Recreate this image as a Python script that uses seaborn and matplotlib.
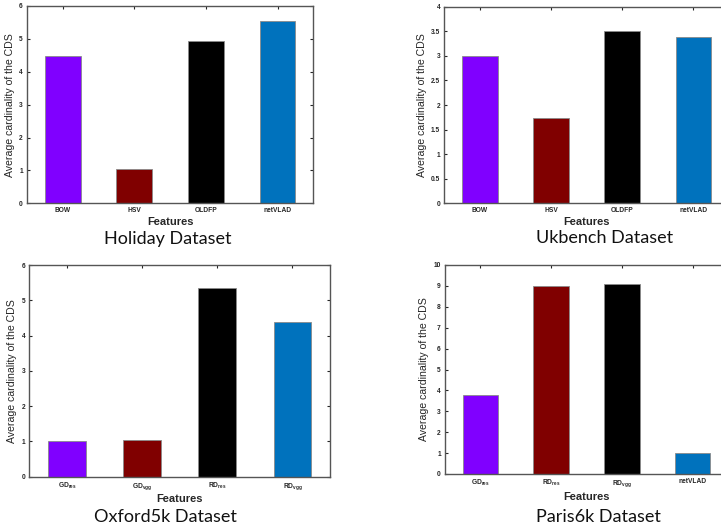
import numpy as np
import pandas as pd
import matplotlib
matplotlib.use('Agg')
import matplotlib.pyplot as plt
import seaborn as sns

# values
holiday_feats = ['BOW', 'HSV', 'OLDFP', 'netVLAD']
holiday_vals = [4.47, 1.03, 4.95, 5.55]

ukbench_feats = ['BOW', 'HSV', 'OLDFP', 'netVLAD']
ukbench_vals = [3.0, 1.74, 3.5, 3.38]

oxford_feats = ['GD$_{res}$', 'GD$_{vgg}$', 'RD$_{res}$', 'RD$_{vgg}$']
oxford_vals = [1.0, 1.03, 5.34, 4.38]

paris_feats = ['GD$_{res}$', 'RD$_{res}$', 'RD$_{vgg}$', 'netVLAD']
paris_vals = [3.76, 9.0, 9.09, 1.0]

bar_colors = ['#8000FF', '#800000', '#000000', '#0072BD']

sns.set_style('ticks')
plt.rcParams['font.family'] = ['Liberation Sans', 'DejaVu Sans']
plt.rcParams['mathtext.default'] = 'regular'

W, H = 721, 527
fig = plt.figure(figsize=(W / 100, H / 100), dpi=100)


def box(l, t, r, b):
    return [l / W, 1 - b / H, (r - l) / W, (b - t) / H]


panels = [
    (holiday_feats, holiday_vals, box(27, 6, 313.3, 203.3), np.arange(0, 7, 1), (0, 6),
     'Holiday Dataset', 168, 239),
    (ukbench_feats, ukbench_vals, box(444.3, 6.7, 729, 203.3), np.arange(0, 4.01, 0.5), (0, 4),
     'Ukbench Dataset', 605, 238),
    (oxford_feats, oxford_vals, box(29.3, 265, 330, 476.7), np.arange(0, 7, 1), (0, 6),
     'Oxford5k Dataset', 165, 517),
    (paris_feats, paris_vals, box(445, 265, 728, 474), np.arange(0, 11, 1), (0, 10),
     'Paris6k Dataset', 598, 517),
]

for feats, vals, pos, yt, ylim, title, tx, ty in panels:
    ax = fig.add_axes(pos)
    df = pd.DataFrame({'feat': feats, 'val': vals})
    sns.barplot(data=df, x='feat', y='val', hue='feat', palette=bar_colors,
                width=0.5, legend=False, ax=ax, edgecolor='#8a8a8a', linewidth=0.6,
                saturation=1)
    ax.set_xlim(-0.5, 3.5)
    ax.set_ylim(*ylim)
    ax.set_yticks(yt)
    ax.set_yticklabels(['%g' % v for v in yt])
    ax.tick_params(direction='in', length=2.5, width=0.8, top=True, right=True,
                   labelsize=4.8, colors='#262626', pad=3)
    for lab in ax.get_xticklabels() + ax.get_yticklabels():
        lab.set_fontweight('bold')
    for sp in ax.spines.values():
        sp.set_visible(True)
        sp.set_color('#555555')
        sp.set_linewidth(1.0)
    ax.set_xlabel('Features', fontsize=8, fontweight='bold', color='#262626', labelpad=2)
    ax.set_ylabel('Average cardinality of the CDS', fontsize=7.6, color='#262626', labelpad=3)
    fig.text(tx / W, 1 - ty / H, title, ha='center', va='center', fontsize=13,
             family=['Lato', 'DejaVu Sans'], color='#111111')

fig.savefig('out.png', dpi=100)
